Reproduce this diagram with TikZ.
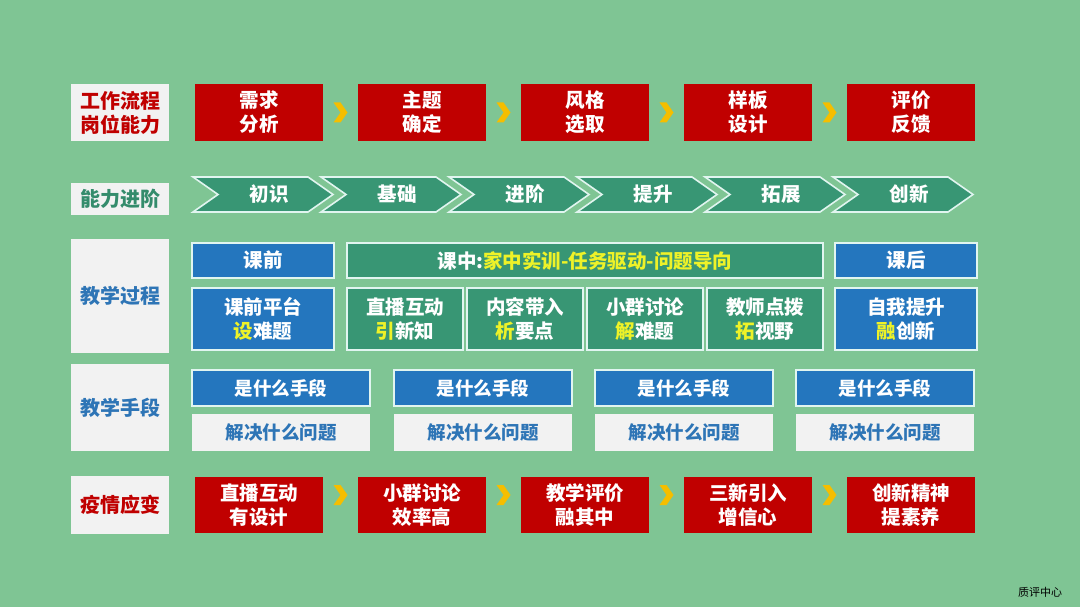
\documentclass[tikz,border=0pt]{standalone}
\usepackage{fontspec}
\setmainfont{Noto Sans CJK SC}
\usetikzlibrary{calc}
\definecolor{bggreen}{RGB}{127,197,148}
\definecolor{boxred}{RGB}{192,0,0}
\definecolor{boxblue}{RGB}{36,118,190}
\definecolor{boxteal}{RGB}{56,150,116}
\definecolor{lblgray}{RGB}{242,242,242}
\definecolor{hiyellow}{RGB}{238,242,40}
\definecolor{goldarrow}{RGB}{245,190,0}
\definecolor{txtblue}{RGB}{46,117,182}
\definecolor{txtteal}{RGB}{52,140,108}
\definecolor{edgewhite}{RGB}{225,245,240}
\newcommand{\hl}[1]{\textcolor{hiyellow}{#1}}

\begin{document}
\begin{tikzpicture}[x=1pt,y=-1pt,
  lbl/.style={fill=lblgray,inner sep=0pt,minimum width=98pt,align=center,
    font=\bfseries\fontsize{20}{24}\selectfont},
  redbox/.style={fill=boxred,text=white,inner sep=0pt,minimum width=128pt,
    align=center,font=\bfseries\fontsize{19.5}{24}\selectfont},
  bluebox/.style={fill=boxblue,draw=edgewhite,line width=1.2pt,text=white,inner sep=0pt,
    align=center,font=\bfseries\fontsize{19.5}{24.5}\selectfont},
  tealbox/.style={bluebox,fill=boxteal},
  graybox/.style={fill=lblgray,text=txtblue,inner sep=0pt,minimum width=178pt,
    minimum height=37pt,font=\bfseries\fontsize{18.5}{24}\selectfont},
  chev/.style={fill=boxteal,draw=edgewhite,line width=1.6pt,line join=miter},
  chevtxt/.style={text=white,font=\bfseries\fontsize{19.5}{22}\selectfont},
  goldchev/.style={fill=goldarrow}]
  \fill[bggreen] (0,0) rectangle (1080,607);

  % row labels
  \node[lbl,minimum height=57pt,text=boxred] (lblflow) at (120,112.5) {工作流程\\岗位能力};
  \node[lbl,minimum height=32pt,text=txtteal] (lblstage) at (120,199) {能力进阶};
  \node[lbl,minimum height=114pt,text=txtblue] (lblteach) at (120,296) {教学过程};
  \node[lbl,minimum height=87pt,text=txtblue] (lblmeans) at (120,407.5) {教学手段};
  \node[lbl,minimum height=58pt,text=boxred] (lblcovid) at (120,505) {疫情应变};

  % work flow
  \node[redbox,minimum height=57pt] (flowA) at (259,112.5) {需求\\分析};
  \node[redbox,minimum height=57pt] (flowB) at (422,112.5) {主题\\确定};
  \node[redbox,minimum height=57pt] (flowC) at (585,112.5) {风格\\选取};
  \node[redbox,minimum height=57pt] (flowD) at (748,112.5) {样板\\设计};
  \node[redbox,minimum height=57pt] (flowE) at (911,112.5) {评价\\反馈};
  \foreach \a/\b in {A/B,B/C,C/D,D/E}
    \fill[goldchev] ($(flow\a.east)!0.5!(flow\b.west)$) +(-7,-10) -- +(0,-10) -- +(7,0)
      -- +(0,10) -- +(-7,10) -- +(0,0) -- cycle;

  % stages
  \foreach \i/\txt in {0/初识,1/基础,2/进阶,3/提升,4/拓展,5/创新}{
    \pgfmathsetmacro\xa{193+128*\i}
    \draw[chev] (\xa,177) -- ++(115,0) -- ++(25,17.5) -- ++(-25,17.5) -- ++(-115,0)
      -- ++(25,-17.5) -- cycle;
    \node[chevtxt] (stage\i) at (\xa+76,194.5) {\txt};
  }

  % teaching process
  \node[bluebox,minimum width=142pt,minimum height=35pt] (pre) at (263,260.5) {课前};
  \node[tealbox,minimum width=476pt,minimum height=35pt] (mid) at (585,260.5)
    {课中:\hl{家中实训-任务驱动-问题导向}};
  \node[bluebox,minimum width=142pt,minimum height=35pt] (post) at (906,260.5) {课后};
  \node[bluebox,minimum width=142pt,minimum height=62pt] (preA) at (263,319)
    {课前平台\\\hl{设}难题};
  \node[tealbox,minimum width=116pt,minimum height=62pt] (midA) at (405,319)
    {直播互动\\\hl{引}新知};
  \node[tealbox,minimum width=116pt,minimum height=62pt] (midB) at (525,319)
    {内容带入\\\hl{析}要点};
  \node[tealbox,minimum width=116pt,minimum height=62pt] (midC) at (645,319)
    {小群讨论\\\hl{解}难题};
  \node[tealbox,minimum width=116pt,minimum height=62pt] (midD) at (765,319)
    {教师点拨\\\hl{拓}视野};
  \node[bluebox,minimum width=142pt,minimum height=62pt] (postA) at (906,319)
    {自我提升\\\hl{融}创新};

  % teaching means
  \foreach \i/\xa in {1/192,2/394,3/595,4/796}{
    \node[bluebox,minimum width=178pt,minimum height=36pt,
      font=\bfseries\fontsize{18.5}{24}\selectfont] (means\i) at (\xa+89,388) {是什么手段};
    \node[graybox] (solve\i) at (\xa+89,432.5) {解决什么问题};
  }

  % epidemic response
  \node[redbox,minimum height=56pt] (covidA) at (259,505) {直播互动\\有设计};
  \node[redbox,minimum height=56pt] (covidB) at (422,505) {小群讨论\\效率高};
  \node[redbox,minimum height=56pt] (covidC) at (585,505) {教学评价\\融其中};
  \node[redbox,minimum height=56pt] (covidD) at (748,505) {三新引入\\增信心};
  \node[redbox,minimum height=56pt] (covidE) at (911,505) {创新精神\\提素养};
  \foreach \a/\b in {A/B,B/C,C/D,D/E}
    \fill[goldchev] ($(covid\a.east)!0.5!(covid\b.west)$) ++(0,-10) +(-7,-10) -- +(0,-10)
      -- +(7,0) -- +(0,10) -- +(-7,10) -- +(0,0) -- cycle;

  \node[font=\fontsize{11}{13}\selectfont] (note) at (1040,592) {质评中心};
\end{tikzpicture}
\end{document}
